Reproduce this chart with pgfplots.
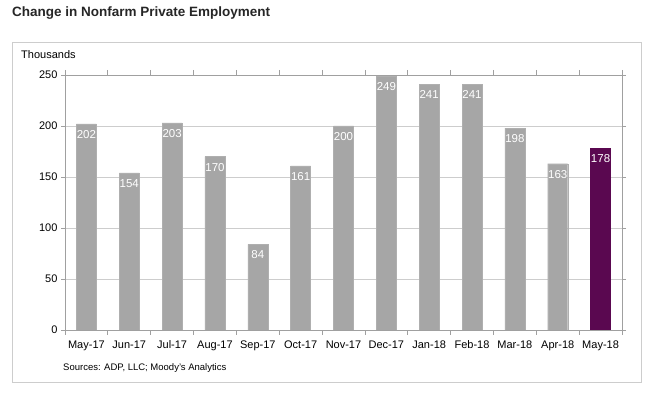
\documentclass[border=0pt]{standalone}
\usepackage{pgfplots}
\pgfplotsset{compat=1.18}
\usepackage{fontspec}
\setmainfont{Liberation Sans}
\definecolor{bargray}{RGB}{166,166,166}
\definecolor{purp}{RGB}{90,8,80}
\definecolor{gridgray}{RGB}{205,205,205}
\definecolor{boxgray}{RGB}{205,205,205}
\definecolor{axgray}{RGB}{160,160,160}
\begin{document}
\begin{tikzpicture}
\useasboundingbox (0pt,0pt) rectangle (657pt,395pt);
\draw[boxgray, line width=1pt] (12pt,12pt) rectangle (641pt,352pt);
\node[anchor=west, inner sep=0pt, font=\fontsize{13.5}{15}\selectfont\bfseries, text=black!85] at (12pt,382pt) {Change in Nonfarm Private Employment};
\node[anchor=west, inner sep=0pt, font=\fontsize{11}{13}\selectfont] at (21pt,340pt) {Thousands};
\node[anchor=west, inner sep=0pt, font=\fontsize{9.5}{11}\selectfont] at (63pt,27pt) {Sources: ADP, LLC; Moody's Analytics};
\begin{axis}[
  at={(65pt,65pt)}, anchor=south west, scale only axis,
  width=557pt, height=255pt,
  xmin=-0.5, xmax=12.5, ymin=0, ymax=250,
  ytick={0,50,...,250},
  xtick={0,...,12},
  xticklabels={May-17,Jun-17,Jul-17,Aug-17,Sep-17,Oct-17,Nov-17,Dec-17,Jan-18,Feb-18,Mar-18,Apr-18,May-18},
  minor xtick={-0.5,0.5,...,12.5},
  major x tick style={draw=none},
  tick align=outside,
  major tick length=4pt,
  minor tick length=5pt,
  tick style={axgray, line width=0.8pt},
  ymajorgrids, grid style={gridgray, line width=0.8pt},
  axis line style={axgray, line width=0.8pt},
  ticklabel style={font=\fontsize{11}{13}\selectfont},
  xticklabel style={yshift=-3pt},
  /pgf/number format/assume math mode=true,
  ybar, bar width=20pt, bar shift=0pt,
  nodes near coords,
  every node near coord/.append style={anchor=north, text=white, font=\fontsize{11.5}{13}\selectfont, yshift=-3pt},
]
\addplot[fill=bargray, draw=bargray!90!white] coordinates {(0,202) (1,154) (2,203) (3,170) (4,84) (5,161) (6,200) (7,249) (8,241) (9,241) (10,198) (11,163)};
\addplot[fill=purp, draw=purp] coordinates {(12,178)};
\end{axis}
\end{tikzpicture}
\end{document}
